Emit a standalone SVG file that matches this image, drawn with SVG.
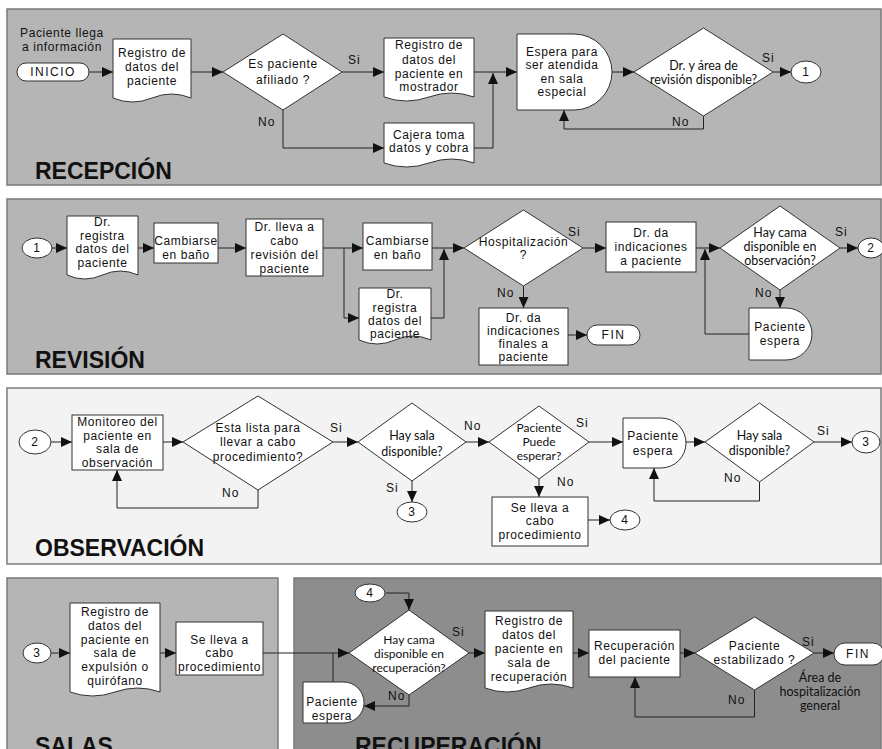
<svg xmlns="http://www.w3.org/2000/svg" width="882" height="749" viewBox="0 0 882 749">
<defs>
<marker id="ah" markerUnits="userSpaceOnUse" markerWidth="12" markerHeight="10" refX="11" refY="5" orient="auto"><path d="M0,0 L11,5 L0,10 Z" fill="#111"/></marker>
<style>
.panel{stroke:#7a7a7a;stroke-width:1.5}
.s{fill:#fff;stroke:#333;stroke-width:1}
.t{font-family:"Liberation Sans",Arial,sans-serif;font-size:12px;letter-spacing:0.6px;fill:#111;text-anchor:middle}
.c{font-family:Lato,"Liberation Sans",sans-serif;font-size:12.5px;fill:#111;text-anchor:middle}
.l{font-family:"Liberation Sans",Arial,sans-serif;font-size:12px;letter-spacing:1px;fill:#111}
.title{font-family:"Liberation Sans",Arial,sans-serif;font-weight:bold;font-size:23px;fill:#111}
.e{fill:none;stroke:#222;stroke-width:1}
.a{marker-end:url(#ah)}
</style>
</defs>
<g id="panels">
<rect class="panel" x="7" y="9" width="874" height="176" fill="#b5b5b5"/>
<rect class="panel" x="7" y="199" width="874" height="175" fill="#b5b5b5"/>
<rect class="panel" x="7" y="388" width="874" height="176" fill="#f3f3f3"/>
<rect class="panel" x="7" y="578" width="271" height="190" fill="#b5b5b5"/>
<rect class="panel" x="294" y="578" width="587" height="190" fill="#8d8d8d"/>
<text class="title" x="35" y="179">RECEPCIÓN</text>
<text class="title" x="35" y="368">REVISIÓN</text>
<text class="title" x="35" y="556">OBSERVACIÓN</text>
<text class="title" x="35" y="754">SALAS</text>
<text class="title" x="355" y="754">RECUPERACIÓN</text>
</g>
<g id="connectors">
<path class="e a" d="M89 72 H113"/>
<path class="e a" d="M191 72 H223"/>
<path class="e a" d="M342 72 H384"/>
<path class="e a" d="M283 110 V148 H384"/>
<path class="e a" d="M474 72 H517"/>
<path class="e a" d="M474 148 H493 V73"/>
<path class="e a" d="M612 72 H634"/>
<path class="e a" d="M773 72 H791"/>
<path class="e a" d="M703.5 116 V129 H564 V110"/>
<path class="e a" d="M52 248 H67"/>
<path class="e a" d="M138 248 H154"/>
<path class="e a" d="M218 248 H246"/>
<path class="e a" d="M323 248 H363"/>
<path class="e a" d="M344 248 V318 H359"/>
<path class="e a" d="M432 248 H464"/>
<path class="e a" d="M431 318 H444 V249"/>
<path class="e a" d="M583 248 H606"/>
<path class="e a" d="M696 248 H720"/>
<path class="e a" d="M749 334 H705 V249"/>
<path class="e a" d="M780 290 V308"/>
<path class="e a" d="M840 248 H858"/>
<path class="e a" d="M523.5 286 V308"/>
<path class="e a" d="M568 335 H587"/>
<path class="e a" d="M51 442 H72"/>
<path class="e a" d="M163 442 H183"/>
<path class="e a" d="M258 490 V508 H117 V470"/>
<path class="e a" d="M333 442 H358"/>
<path class="e a" d="M412 481 V502"/>
<path class="e a" d="M466 442 H489"/>
<path class="e a" d="M539 479 V497"/>
<path class="e a" d="M588 520 H610"/>
<path class="e a" d="M589 442 H623"/>
<path class="e a" d="M686 442 H705"/>
<path class="e a" d="M759.5 482 V501 H654 V468"/>
<path class="e a" d="M814 442 H852"/>
<path class="e a" d="M51 653 H70"/>
<path class="e a" d="M160 653 H176"/>
<path class="e a" d="M263 653 H349"/>
<path class="e" d="M333 653 V682"/>
<path class="e a" d="M386 593 H409 V610"/>
<path class="e a" d="M409 695 V706 H364"/>
<path class="e a" d="M469 653 H485"/>
<path class="e a" d="M573 653 H589"/>
<path class="e a" d="M680 653 H695"/>
<path class="e a" d="M814 653 H834"/>
<path class="e a" d="M754.5 690 V717 H635 V677"/>
</g>
<g id="labels">
<text class="l" x="348" y="64">Si</text>
<text class="l" x="258" y="126">No</text>
<text class="l" x="762" y="62">Si</text>
<text class="l" x="672" y="126">No</text>
<text class="l" x="568" y="236">Si</text>
<text class="l" x="497" y="297">No</text>
<text class="l" x="835" y="236">Si</text>
<text class="l" x="755" y="297">No</text>
<text class="l" x="222" y="497">No</text>
<text class="l" x="330" y="432">Si</text>
<text class="l" x="386" y="492">Si</text>
<text class="l" x="464" y="430">No</text>
<text class="l" x="576" y="427">Si</text>
<text class="l" x="557" y="486">No</text>
<text class="l" x="724" y="482">No</text>
<text class="l" x="817" y="435">Si</text>
<text class="l" x="452" y="636">Si</text>
<text class="l" x="388" y="700">No</text>
<text class="l" x="802" y="646">Si</text>
<text class="l" x="728" y="704">No</text>
<text class="c" x="820" y="682">Área de</text>
<text class="c" x="820" y="696">hospitalización</text>
<text class="c" x="820" y="710">general</text>
</g>
<g id="n-intro"><text class="t" x="62" y="37">Paciente llega</text><text class="t" x="62" y="51">a información</text></g>
<g id="n-inicio"><rect class="s" x="17" y="63" width="72" height="18" rx="9"/><text class="t" x="53" y="76" style="letter-spacing:1.5px">INICIO</text></g>
<g id="n-registro1"><path class="s" d="M113 39 H191 V98 Q171.5 90 152 98 T113 98 Z"/><text class="t" x="152" y="57">Registro de</text><text class="t" x="152" y="71">datos del</text><text class="t" x="152" y="85">paciente</text></g>
<g id="n-afiliado"><polygon class="s" points="223,72 283,34 342,72 283,110"/><text class="t" x="283" y="68">Es paciente</text><text class="t" x="283" y="84">afiliado ?</text></g>
<g id="n-mostrador"><path class="s" d="M384 38 H474 V97 Q451.5 89 429 97 T384 97 Z"/><text class="t" x="429" y="49">Registro de</text><text class="t" x="429" y="64">datos del</text><text class="t" x="429" y="78">paciente en</text><text class="t" x="429" y="91">mostrador</text></g>
<g id="n-cajera"><path class="s" d="M384 123 H474 V163 Q451.5 155 429 163 T384 163 Z"/><text class="t" x="429" y="139">Cajera toma</text><text class="t" x="429" y="152">datos y cobra</text></g>
<g id="n-espera1"><path class="s" d="M517 34 H574 A38 38 0 0 1 574 110 H517 Z"/><text class="t" x="562" y="56">Espera para</text><text class="t" x="562" y="69">ser atendida</text><text class="t" x="562" y="83">en sala</text><text class="t" x="562" y="96">especial</text></g>
<g id="n-drarea"><polygon class="s" points="634,72 703.5,28 773,72 703.5,116"/><text class="c" x="703.5" y="70">Dr. y área de</text><text class="c" x="703.5" y="84">revisión disponible?</text></g>
<g id="n-c1a"><ellipse class="s" cx="806" cy="72" rx="15" ry="11"/><text class="t" x="806" y="76">1</text></g>
<g id="n-c1b"><ellipse class="s" cx="37" cy="248" rx="15" ry="10"/><text class="t" x="37" y="252">1</text></g>
<g id="n-drreg1"><path class="s" d="M67 216 H138 V275 Q120.25 267 102.5 275 T67 275 Z"/><text class="t" x="102.5" y="226">Dr.</text><text class="t" x="102.5" y="240">registra</text><text class="t" x="102.5" y="253">datos del</text><text class="t" x="102.5" y="267">paciente</text></g>
<g id="n-cambiar1"><rect class="s" x="154" y="223" width="64" height="40"/><text class="t" x="186" y="245">Cambiarse</text><text class="t" x="186" y="259">en baño</text></g>
<g id="n-revision"><rect class="s" x="246" y="219" width="77" height="57"/><text class="t" x="284.5" y="231">Dr. lleva a</text><text class="t" x="284.5" y="245">cabo</text><text class="t" x="284.5" y="259">revisión del</text><text class="t" x="284.5" y="273">paciente</text></g>
<g id="n-cambiar2"><rect class="s" x="363" y="223" width="69" height="47"/><text class="t" x="397.5" y="245">Cambiarse</text><text class="t" x="397.5" y="259">en baño</text></g>
<g id="n-drreg2"><path class="s" d="M359 288 H431 V340 Q413 332 395 340 T359 340 Z"/><text class="t" x="395" y="298">Dr.</text><text class="t" x="395" y="312">registra</text><text class="t" x="395" y="325">datos del</text><text class="t" x="395" y="338">paciente</text></g>
<g id="n-hosp"><polygon class="s" points="464,248 523.5,210 583,248 523.5,286"/><text class="t" x="523.5" y="246">Hospitalización</text><text class="t" x="523.5" y="259">?</text></g>
<g id="n-drda"><rect class="s" x="606" y="222" width="90" height="50"/><text class="t" x="651" y="237">Dr. da</text><text class="t" x="651" y="251">indicaciones</text><text class="t" x="651" y="265">a paciente</text></g>
<g id="n-camaobs"><polygon class="s" points="720,248 780,206 840,248 780,290"/><text class="c" x="780" y="237">Hay cama</text><text class="c" x="780" y="251">disponible en</text><text class="c" x="780" y="265">observación?</text></g>
<g id="n-c2a"><ellipse class="s" cx="871" cy="248" rx="13" ry="10"/><text class="t" x="871" y="252">2</text></g>
<g id="n-espera2"><path class="s" d="M749 308 H786 A26 26 0 0 1 786 360 H749 Z"/><text class="t" x="780" y="331">Paciente</text><text class="t" x="780" y="345">espera</text></g>
<g id="n-finales"><rect class="s" x="479" y="308" width="89" height="57"/><text class="t" x="523.5" y="322">Dr. da</text><text class="t" x="523.5" y="335">indicaciones</text><text class="t" x="523.5" y="348">finales a</text><text class="t" x="523.5" y="361">paciente</text></g>
<g id="n-fin1"><rect class="s" x="587" y="325" width="53" height="20" rx="10"/><text class="t" x="613.5" y="339" style="letter-spacing:1.5px">FIN</text></g>
<g id="n-c2b"><ellipse class="s" cx="35" cy="442" rx="16" ry="12"/><text class="t" x="35" y="446">2</text></g>
<g id="n-monitoreo"><rect class="s" x="72" y="415" width="91" height="55"/><text class="t" x="117.5" y="426">Monitoreo del</text><text class="t" x="117.5" y="440">paciente en</text><text class="t" x="117.5" y="453">sala de</text><text class="t" x="117.5" y="467">observación</text></g>
<g id="n-lista"><polygon class="s" points="183,442 258,396 333,442 258,490"/><text class="t" x="258" y="432">Esta lista para</text><text class="t" x="258" y="446">llevar a cabo</text><text class="t" x="258" y="461">procedimiento?</text></g>
<g id="n-sala1"><polygon class="s" points="358,442 412,403 466,442 412,481"/><text class="c" x="412" y="440">Hay sala</text><text class="c" x="412" y="456">disponible?</text></g>
<g id="n-c3a"><ellipse class="s" cx="412" cy="512" rx="15" ry="10"/><text class="t" x="412" y="516">3</text></g>
<g id="n-puede"><polygon class="s" points="489,442 539,406 589,442 539,479"/><text class="c" x="539" y="432" style="font-size:12px">Paciente</text><text class="c" x="539" y="446" style="font-size:12px">Puede</text><text class="c" x="539" y="460" style="font-size:12px">esperar?</text></g>
<g id="n-proc1"><rect class="s" x="492" y="497" width="96" height="49"/><text class="t" x="540" y="512">Se lleva a</text><text class="t" x="540" y="525">cabo</text><text class="t" x="540" y="539">procedimiento</text></g>
<g id="n-c4a"><ellipse class="s" cx="625" cy="520" rx="15" ry="10"/><text class="t" x="625" y="524">4</text></g>
<g id="n-espera3"><path class="s" d="M623 418 H661 A25 25 0 0 1 661 468 H623 Z"/><text class="t" x="653" y="440">Paciente</text><text class="t" x="653" y="455">espera</text></g>
<g id="n-sala2"><polygon class="s" points="705,442 759.5,403 814,442 759.5,482"/><text class="c" x="759.5" y="440">Hay sala</text><text class="c" x="759.5" y="455">disponible?</text></g>
<g id="n-c3b"><ellipse class="s" cx="866" cy="442" rx="14" ry="11"/><text class="t" x="866" y="446">3</text></g>
<g id="n-c3c"><ellipse class="s" cx="37" cy="653" rx="14" ry="10"/><text class="t" x="37" y="657">3</text></g>
<g id="n-regsala"><path class="s" d="M70 603 H160 V692 Q137.5 684 115 692 T70 692 Z"/><text class="t" x="115" y="616">Registro de</text><text class="t" x="115" y="630">datos del</text><text class="t" x="115" y="644">paciente en</text><text class="t" x="115" y="657">sala de</text><text class="t" x="115" y="671">expulsión o</text><text class="t" x="115" y="685">quirófano</text></g>
<g id="n-proc2"><rect class="s" x="176" y="622" width="87" height="53"/><text class="t" x="219.5" y="644">Se lleva a</text><text class="t" x="219.5" y="657">cabo</text><text class="t" x="219.5" y="671">procedimiento</text></g>
<g id="n-c4b"><ellipse class="s" cx="370" cy="593" rx="15" ry="9"/><text class="t" x="370" y="597">4</text></g>
<g id="n-camarec"><polygon class="s" points="349,653 409,610 469,653 409,695"/><text class="c" x="409" y="644" style="font-size:12px">Hay cama</text><text class="c" x="409" y="658" style="font-size:12px">disponible en</text><text class="c" x="409" y="672" style="font-size:12px">recuperación?</text></g>
<g id="n-espera4"><path class="s" d="M303 682 H343.5 A20.5 20.5 0 0 1 343.5 723 H303 Z"/><text class="t" x="332" y="706">Paciente</text><text class="t" x="332" y="720">espera</text></g>
<g id="n-regrec"><path class="s" d="M485 611 H573 V688 Q551 680 529 688 T485 688 Z"/><text class="t" x="529" y="625">Registro de</text><text class="t" x="529" y="639">datos del</text><text class="t" x="529" y="653">paciente en</text><text class="t" x="529" y="667">sala de</text><text class="t" x="529" y="681">recuperación</text></g>
<g id="n-recup"><rect class="s" x="589" y="630" width="91" height="47"/><text class="t" x="634.5" y="650">Recuperación</text><text class="t" x="634.5" y="664">del paciente</text></g>
<g id="n-estab"><polygon class="s" points="695,653 754.5,617 814,653 754.5,690"/><text class="t" x="754.5" y="650">Paciente</text><text class="t" x="754.5" y="664">estabilizado ?</text></g>
<g id="n-fin2"><rect class="s" x="834" y="643" width="50" height="22" rx="11"/><text class="t" x="858" y="658" style="letter-spacing:1.5px">FIN</text></g>
</svg>
